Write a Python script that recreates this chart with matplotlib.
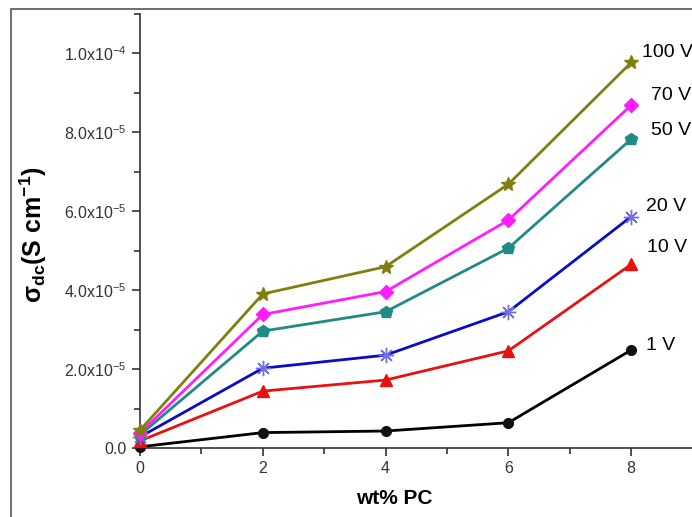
"""Conductivity vs wt% PC at several applied voltages."""

import matplotlib
matplotlib.use("Agg")
import matplotlib.pyplot as plt
from matplotlib.patches import Rectangle
from matplotlib.ticker import FuncFormatter, MultipleLocator

plt.rcParams["font.family"] = ["Liberation Sans", "DejaVu Sans"]
plt.rcParams["mathtext.fontset"] = "custom"
plt.rcParams["mathtext.rm"] = "Liberation Sans"
plt.rcParams["mathtext.it"] = "Liberation Sans:italic"
plt.rcParams["mathtext.bf"] = "Liberation Sans:bold"

# data (sigma_dc in units of 1e-6 S/cm)
wt_pc = [0, 2, 4, 6, 8]
labels = ["1 V", "10 V", "20 V", "50 V", "70 V", "100 V"]
sigma_1v = [0.3, 3.9, 4.3, 6.4, 24.8]
sigma_10v = [1.8, 14.4, 17.2, 24.6, 46.5]
sigma_20v = [2.8, 20.2, 23.5, 34.5, 58.6]
sigma_50v = [3.3, 29.6, 34.5, 50.6, 78.2]
sigma_70v = [3.8, 33.8, 39.6, 57.7, 86.8]
sigma_100v = [4.5, 39.0, 45.9, 66.8, 97.6]

series = [sigma_1v, sigma_10v, sigma_20v, sigma_50v, sigma_70v, sigma_100v]
colors = ["#000000", "#e81010", "#0a0ac8", "#1f8a86", "#ff1cff", "#7f7f10"]
marker_colors = ["#111111", "#e81010", "#7070e0", "#1f8a86", "#ff1cff", "#7f7f10"]
markers = ["o", "^", (8, 2, 0), "p", "D", "*"]
msizes = [7, 9, 11, 9, 7, 10]
label_offsets = [(11, 3.5), (11.5, 12), (11, 7), (14, 6.5), (14, 7), (8, 7)]

fig = plt.figure(figsize=(6.92, 5.17), dpi=100)
ax = fig.add_axes([140 / 692, 69 / 517, 552 / 692, 434.5 / 517])

for ys, lab, c, mc, m, ms, off in zip(series, labels, colors, marker_colors,
                                       markers, msizes, label_offsets):
    yv = [v * 1e-6 for v in ys]
    ax.plot(wt_pc, yv, color=c, lw=2.0, marker=m, ms=ms, mfc=mc, mec=mc,
            mew=1.0, clip_on=False, zorder=3)
    ax.annotate(lab, (wt_pc[-1], yv[-1]), xytext=off, textcoords="offset points",
                fontsize=14, va="center", ha="left", annotation_clip=False)

ax.set_xlim(0, 8.99)
ax.set_ylim(0, 1.1e-4)
ax.xaxis.set_major_locator(MultipleLocator(2))
ax.xaxis.set_minor_locator(MultipleLocator(1))
ax.yaxis.set_major_locator(MultipleLocator(2e-5))
ax.yaxis.set_minor_locator(MultipleLocator(1e-5))


def _sci(v, pos):
    if abs(v) < 1e-12:
        return "0.0"
    exp = int(f"{v:e}".split("e")[1])
    mant = v / 10 ** exp
    return r"$%.1f\mathrm{x}10^{%d}$" % (mant, exp)


ax.yaxis.set_major_formatter(FuncFormatter(_sci))
ax.tick_params(which="both", direction="out", width=1.2, colors="#333333",
               labelsize=11.5)
ax.tick_params(which="major", length=6)
ax.tick_params(which="minor", length=4)
ax.spines["top"].set_visible(False)
ax.spines["right"].set_visible(False)
for s in ("left", "bottom"):
    ax.spines[s].set_linewidth(1.2)
    ax.spines[s].set_color("#333333")

ax.set_xlabel("wt% PC", fontsize=15, fontweight="bold")
ax.xaxis.set_label_coords(0.46, -0.095)
ax.set_ylabel(r"$\mathbf{\sigma_{dc}(S\ cm^{-1})}$", fontsize=18)
ax.yaxis.set_label_coords(-0.165, 0.49)

# outer frame of the original figure (cropped on right/bottom)
fig.add_artist(Rectangle((11 / 692, -0.05), 1.2, 1.05 - 9 / 517,
                         transform=fig.transFigure, fill=False,
                         ec="#555555", lw=1.2))

fig.savefig("out.png", dpi=100)
